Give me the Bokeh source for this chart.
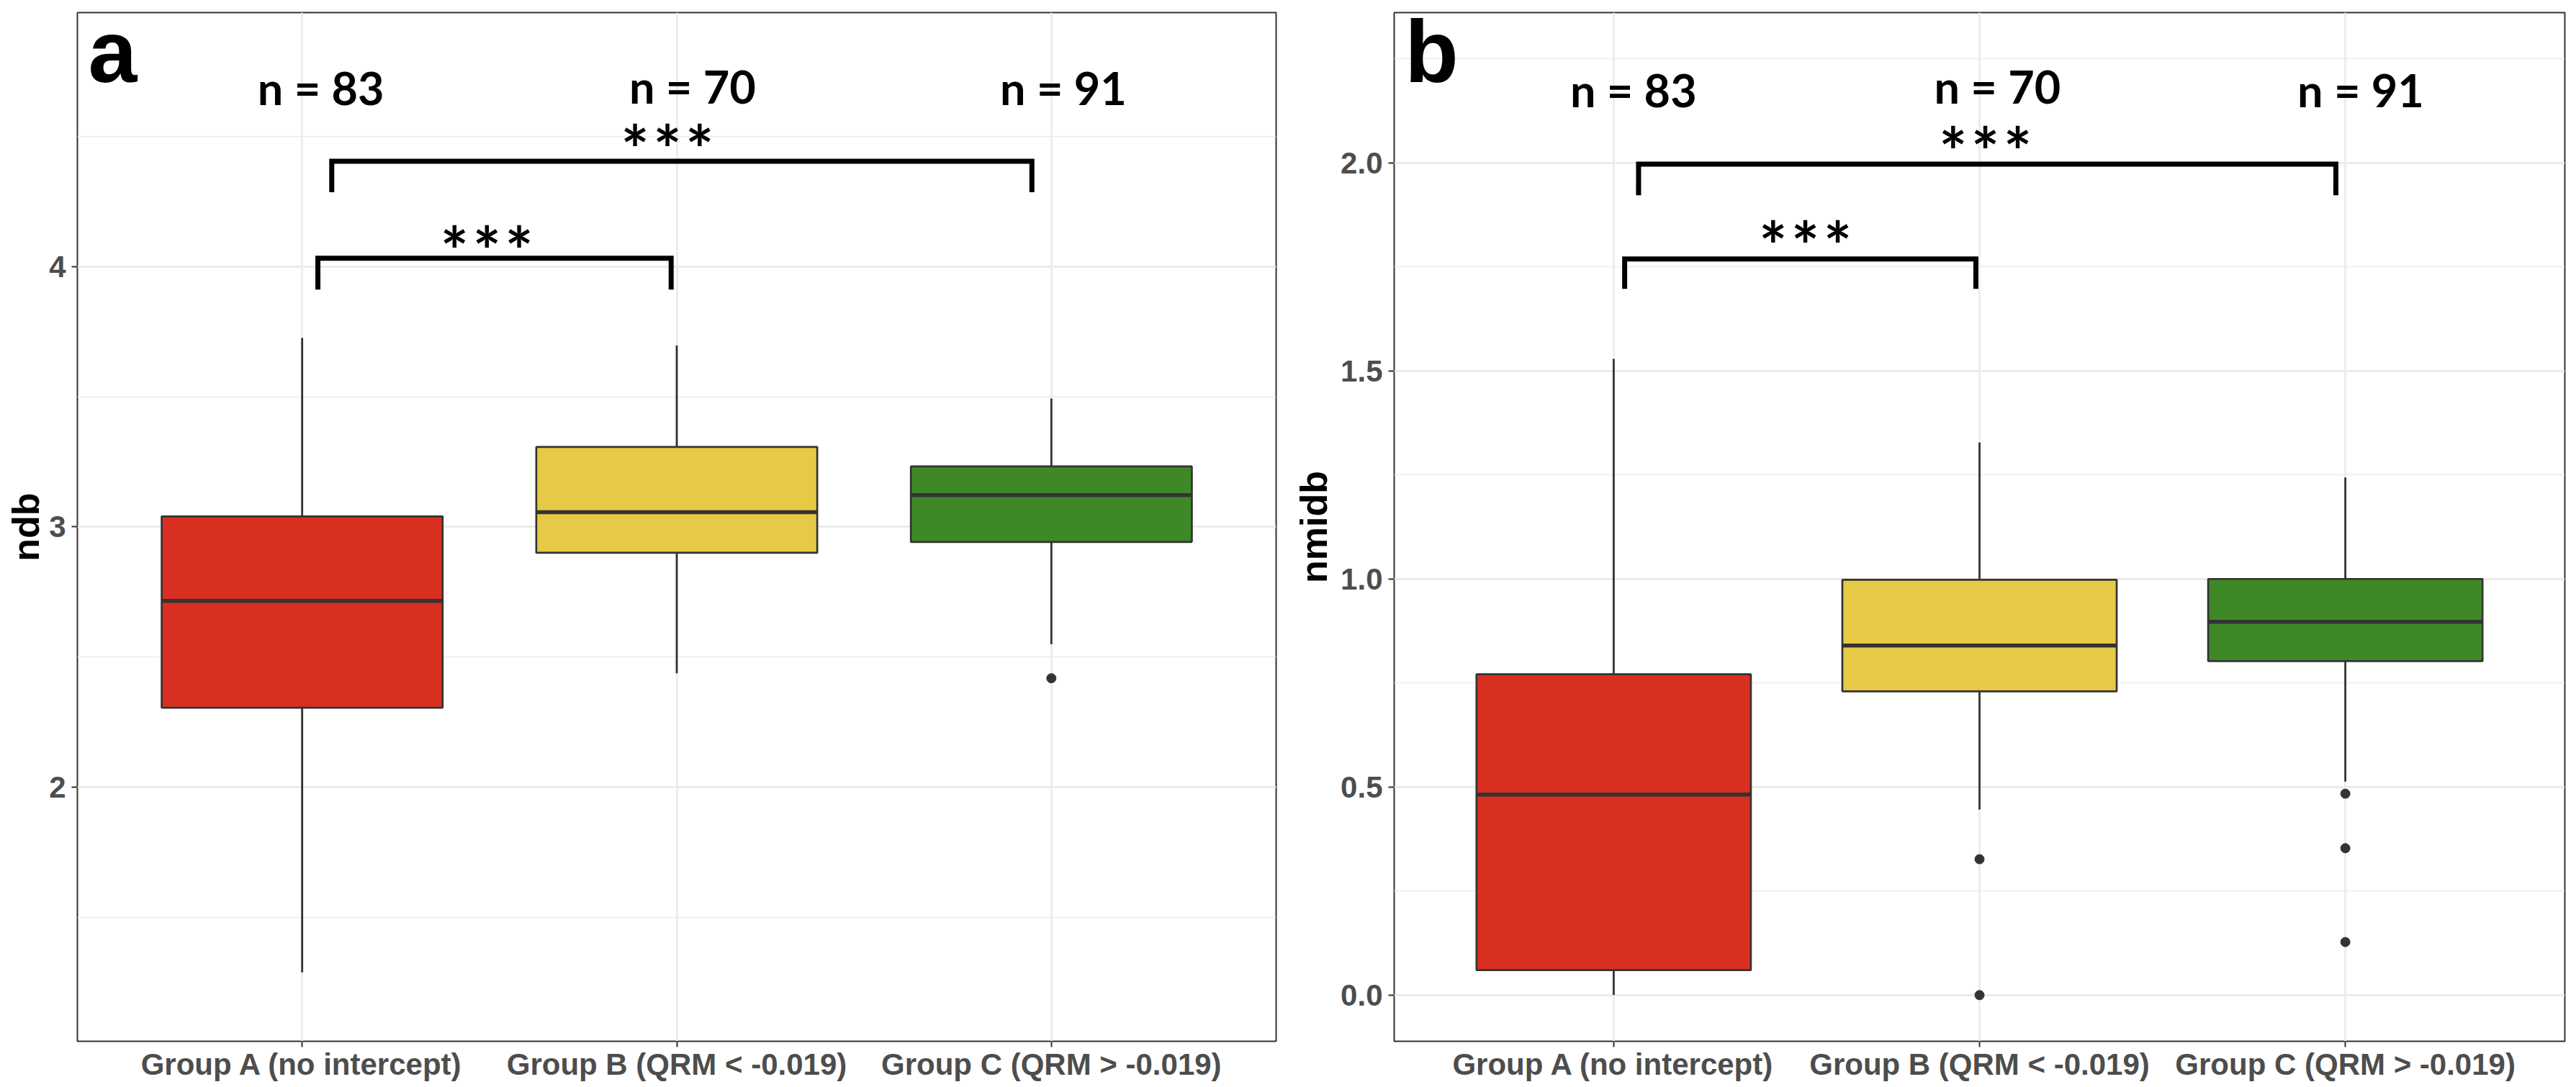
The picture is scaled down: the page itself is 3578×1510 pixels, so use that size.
from bokeh.plotting import figure
from bokeh.models import Range1d, FixedTicker, Label
from bokeh.layouts import row
from bokeh.embed import file_html
from bokeh.resources import INLINE
from bokeh.core.properties import value

# ---------------- data ----------------
groups = ["Group A (no intercept)", "Group B (QRM < -0.019)", "Group C (QRM > -0.019)"]
group_pos = [1, 2, 3]
colors = ["#D92F21", "#E6C944", "#3F8826"]
counts = ["n = 83", "n = 70", "n = 91"]
sig_label = "*\u200a*\u200a*"

# panel a : ndb
ndb_low = [1.288, 2.437, 2.549]
ndb_q1 = [2.305, 2.900, 2.942]
ndb_med = [2.715, 3.056, 3.122]
ndb_q3 = [3.040, 3.307, 3.232]
ndb_high = [3.726, 3.697, 3.493]
ndb_out_group = [3]
ndb_out_val = [2.418]
ndb_ticks = [2, 3, 4]
ndb_minor = [1.5, 2.5, 3.5, 4.5]

# panel b : nmidb
nmidb_low = [0.0, 0.446, 0.513]
nmidb_q1 = [0.060, 0.730, 0.8025]
nmidb_med = [0.482, 0.840, 0.897]
nmidb_q3 = [0.771, 0.998, 1.000]
nmidb_high = [1.529, 1.328, 1.244]
nmidb_out_group = [2, 2, 3, 3, 3]
nmidb_out_val = [0.3265, 0.0, 0.484, 0.353, 0.1275]
nmidb_ticks = [0.0, 0.5, 1.0, 1.5, 2.0]
nmidb_minor = [0.25, 0.75, 1.25, 1.75, 2.25]

# ---------------- styling / layout ----------------
BOX_W = 0.75
EDGE = "#333333"
GRID = "#EBEBEB"


def panel(width, border_left, border_right, y_start, y_end, ticks, minor, ylabel, label_standoff,
          low, q1, med, q3, high, out_g, out_v,
          brackets, stars, n_xy, letter, letter_xy):
    p = figure(width=width, height=1510, output_backend="svg", toolbar_location=None,
               x_range=Range1d(0.4, 3.6), y_range=Range1d(y_start, y_end),
               min_border_left=border_left, min_border_right=border_right,
               min_border_top=17, min_border_bottom=64,
               background_fill_color="white", border_fill_color="white")
    p.outline_line_color = EDGE
    p.outline_line_width = 2

    # axes
    p.xaxis.ticker = FixedTicker(ticks=group_pos)
    p.xaxis.major_label_overrides = {pos: g for pos, g in zip(group_pos, groups)}
    p.yaxis.ticker = FixedTicker(ticks=ticks, minor_ticks=minor)
    if isinstance(ticks[0], float):
        p.yaxis.major_label_overrides = {t: f"{t:.1f}" for t in ticks}
    for ax in (p.xaxis[0], p.yaxis[0]):
        ax.axis_line_color = None
        ax.major_tick_line_color = EDGE
        ax.major_tick_line_width = 2
        ax.major_tick_out = 8
        ax.major_tick_in = 0
        ax.minor_tick_line_color = None
        ax.major_label_text_font = "Liberation Sans"
        ax.major_label_text_font_style = "bold"
        ax.major_label_text_font_size = "42px"
        ax.major_label_text_color = "#4D4D4D"
    p.xaxis.major_label_standoff = 0
    p.yaxis.major_label_standoff = 8
    p.yaxis.axis_label = ylabel
    p.yaxis.axis_label_text_font = "Liberation Sans"
    p.yaxis.axis_label_text_font_style = "bold"
    p.yaxis.axis_label_text_font_size = "52px"
    p.yaxis.axis_label_text_color = "black"
    p.yaxis.axis_label_standoff = label_standoff

    # grid
    p.xgrid.grid_line_color = GRID
    p.xgrid.grid_line_width = 2.7
    p.ygrid.grid_line_color = GRID
    p.ygrid.grid_line_width = 3
    p.ygrid.minor_grid_line_color = GRID
    p.ygrid.minor_grid_line_width = 1.6

    # whiskers
    p.segment(x0=group_pos, y0=q3, x1=group_pos, y1=high, line_color=EDGE, line_width=2.8)
    p.segment(x0=group_pos, y0=q1, x1=group_pos, y1=low, line_color=EDGE, line_width=2.8)
    # boxes
    p.vbar(x=group_pos, width=BOX_W, bottom=q1, top=q3, fill_color=colors,
           line_color=EDGE, line_width=2.7)
    # medians
    p.segment(x0=[g - BOX_W / 2 for g in group_pos], y0=med,
              x1=[g + BOX_W / 2 for g in group_pos], y1=med,
              line_color=EDGE, line_width=5.5)
    # outliers
    p.scatter(x=out_g, y=out_v, size=13, marker="circle", color=EDGE)

    # significance brackets
    for (x0, x1, ytop, ytip) in brackets:
        p.line(x=[x0, x0, x1, x1], y=[ytip, ytop, ytop, ytip], line_color="black",
               line_width=7, line_join="miter", line_cap="butt")
    p.text(x=[s[0] for s in stars], y=[s[1] for s in stars], text=[sig_label] * len(stars),
           text_font=value("Lato"), text_font_style="bold", text_font_size="92px",
           text_align="center", text_baseline="alphabetic", text_color="black")

    # counts
    p.text(x=[c[0] for c in n_xy], y=[c[1] for c in n_xy], text=counts,
           text_font=value("Lato"), text_font_style="bold", text_font_size="63px",
           text_align="center", text_baseline="alphabetic", text_color="black")

    # panel letter
    p.add_layout(Label(x=letter_xy[0], y=letter_xy[1], text=letter,
                       text_font="Liberation Sans", text_font_style="bold",
                       text_font_size="122px", text_align="left",
                       text_baseline="alphabetic", text_color="black"))
    return p


pa = panel(1793, 107, 21, 1.023, 4.976, ndb_ticks, ndb_minor, "ndb", 0,
           ndb_low, ndb_q1, ndb_med, ndb_q3, ndb_high, ndb_out_group, ndb_out_val,
           brackets=[(1.079, 2.948, 4.405, 4.286), (1.042, 1.985, 4.032, 3.912)],
           stars=[(1.975, 4.452), (1.493, 4.062)],
           n_xy=[(1.05, 4.688), (2.042, 4.693), (3.032, 4.688)],
           letter="a", letter_xy=(0.429, 4.825))

pb = panel(1785, 139, 16, -0.111, 2.361, nmidb_ticks, nmidb_minor, "nmidb", 5,
           nmidb_low, nmidb_q1, nmidb_med, nmidb_q3, nmidb_high, nmidb_out_group, nmidb_out_val,
           brackets=[(1.068, 2.974, 1.997, 1.922), (1.03, 1.99, 1.769, 1.697)],
           stars=[(2.016, 2.028), (1.524, 1.803)],
           n_xy=[(1.054, 2.176), (2.049, 2.184), (3.042, 2.176)],
           letter="b", letter_xy=(0.429, 2.266))

layout = row(pa, pb, spacing=0)
open("out.html", "w").write(file_html(layout, INLINE))
